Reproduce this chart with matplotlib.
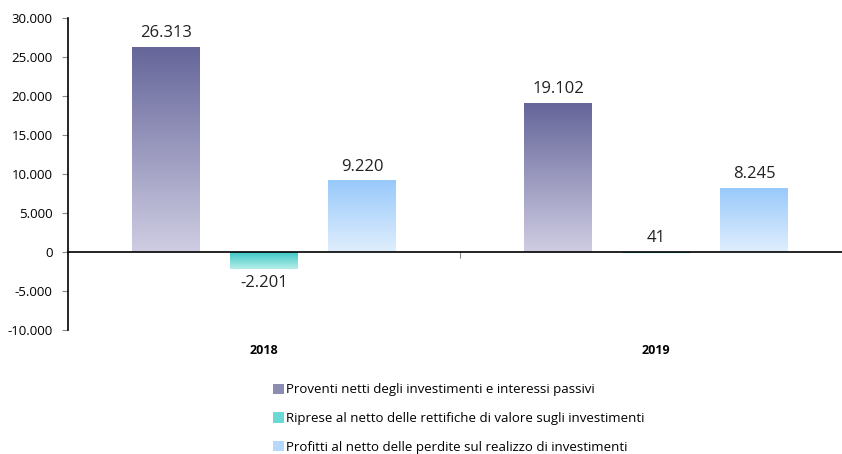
import numpy as np
import matplotlib
matplotlib.use('Agg')
import matplotlib.pyplot as plt
from matplotlib.colors import LinearSegmentedColormap
from matplotlib.patches import Patch
from matplotlib.ticker import FuncFormatter

# dati
anni = ['2018', '2019']
serie = ['Proventi netti degli investimenti e interessi passivi',
         'Riprese al netto delle rettifiche di valore sugli investimenti',
         'Profitti al netto delle perdite sul realizzo di investimenti']
proventi = [26313, 19102]
riprese = [-2201, 41]
profitti = [9220, 8245]

# colori gradiente (alto, basso) e colore legenda
colori = [('#65659a', '#cfcde2'), ('#35c6c2', '#b8eeea'), ('#98c9fb', '#e0eefd')]
colori_leg = ['#8c8bb2', '#6ad8d3', '#b5d8fc']

plt.rcParams['font.family'] = ['Open Sans', 'DejaVu Sans']

fig = plt.figure(figsize=(8.42, 4.54), dpi=100)
ax = fig.add_axes([68/842, 124/454, 784/842, 312/454])

def fmt(v):
    return f'{v:,.0f}'.replace(',', '.')

larg = 0.171
off = 0.25
grad = np.linspace(0, 1, 256).reshape(-1, 1)
for k, valori in enumerate([proventi, riprese, profitti]):
    cmap = LinearSegmentedColormap.from_list('g', [colori[k][1], colori[k][0]])
    for i, v in enumerate(valori):
        x = i + (k - 1) * off
        # barre sottili: bordo per renderle visibili
        if abs(v) < 500:
            bar = ax.bar(x, v, width=larg, color=colori[k][0], edgecolor=colori[k][0], linewidth=0.8)[0]
        else:
            bar = ax.bar(x, v, width=larg, color='none', edgecolor='none')[0]
        ext = [x - larg/2, x + larg/2, min(0, v), max(0, v)]
        im = ax.imshow(grad, cmap=cmap, extent=ext, origin='lower', aspect='auto', zorder=2)
        im.set_clip_path(bar)
        if v >= 0:
            ax.annotate(fmt(v), (x, v), xytext=(0, 4), textcoords='offset points',
                        ha='center', va='bottom', fontsize=12, color='#222222')
        else:
            ax.annotate(fmt(v), (x, v), xytext=(0, -4), textcoords='offset points',
                        ha='center', va='top', fontsize=12, color='#222222')

ax.set_xlim(-0.5, 1.5)
ax.set_ylim(-10000, 30000)

for s in ['top', 'right']:
    ax.spines[s].set_visible(False)
ax.spines['bottom'].set_position(('data', 0))
ax.spines['left'].set_linewidth(1.2)
ax.spines['bottom'].set_linewidth(1.2)
ax.set_xticks([0.5])
ax.set_xticklabels([])
ax.tick_params(axis='x', direction='out', length=4, width=0.8, color='#888888')
ax.set_yticks(np.arange(-10000, 30001, 5000))
ax.yaxis.set_major_formatter(FuncFormatter(lambda v, p: fmt(v)))
ax.tick_params(axis='y', direction='out', length=4, width=0.8, color='#888888', labelsize=9.5, pad=7)

for i, a in enumerate(anni):
    ax.text(i, -11800, a, ha='center', va='top', fontsize=9, fontweight='bold', clip_on=False)

handles = [Patch(facecolor=c, edgecolor='none') for c in colori_leg]
fig.legend(handles, serie, loc='upper left', bbox_to_anchor=(268/842, 1 - 378/454),
           frameon=False, fontsize=9.5, handlelength=0.8, handleheight=0.8,
           handletextpad=0.2, labelspacing=1.2, borderaxespad=0)

fig.savefig('out.png', dpi=100)
